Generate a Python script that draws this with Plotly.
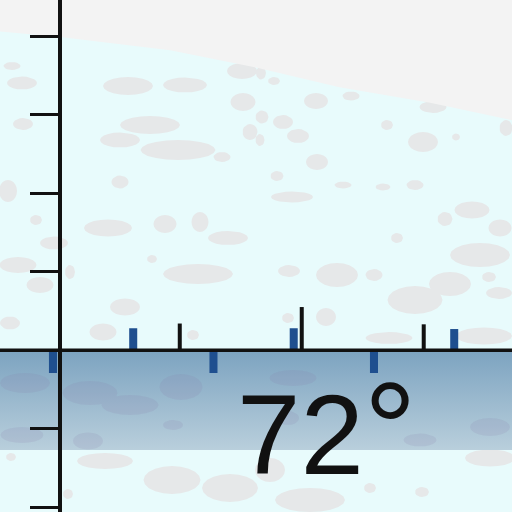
import math
import plotly.graph_objects as go

# ---------------------------------------------------------
# data (x in slot units, y in tick units)
# ---------------------------------------------------------
bar_x = [0, 1, 2, 3, 4, 5]
bar_values = [-0.29, 0.28, -0.29, 0.28, -0.29, 0.27]

mark_x = [1.58, 3.10, 4.62]
mark_values = [0.34, 0.55, 0.33]

y_ticks = [-2, -1, 0, 1, 2, 3, 4]

# edge of the grey region at the top
edge_x = [-0.66, 0.09, 1.46, 2.53, 3.57, 4.70, 5.72]
edge_y = [4.06, 3.99, 3.82, 3.60, 3.35, 3.15, 2.93]

band_bottom = -1.27
label_value = "72"
label_unit = "°"

# cloud patches (centre x, centre y, width, height) in screen pixels
sky_clouds = [
    (12, 66, 17, 8), (22, 83, 30, 13), (128, 86, 50, 18), (185, 85, 44, 15),
    (242, 71, 30, 16), (243, 102, 25, 18), (23, 124, 20, 12), (150, 125, 60, 18),
    (120, 140, 40, 15), (178, 150, 75, 20), (222, 157, 17, 10), (250, 132, 15, 16),
    (8, 191, 18, 22), (120, 182, 17, 13), (36, 220, 12, 10), (108, 228, 48, 17),
    (165, 224, 23, 18), (200, 222, 17, 20), (228, 238, 40, 14), (54, 243, 28, 13),
    (18, 265, 37, 16), (40, 285, 27, 16), (152, 259, 10, 8), (198, 274, 70, 20),
    (70, 272, 10, 14), (125, 307, 30, 17), (10, 323, 20, 13), (103, 332, 27, 17),
    (193, 335, 12, 10), (261, 73, 10, 13), (274, 81, 12, 8), (316, 101, 24, 16),
    (351, 96, 17, 9), (433, 107, 27, 12), (262, 117, 13, 13), (283, 122, 20, 14),
    (298, 136, 22, 14), (387, 125, 12, 10), (423, 142, 30, 20), (456, 137, 8, 7),
    (506, 128, 13, 16), (317, 162, 22, 16), (260, 140, 9, 12), (277, 176, 13, 10),
    (343, 185, 17, 7), (383, 187, 15, 7), (415, 185, 17, 10), (292, 197, 42, 11),
    (445, 219, 15, 14), (472, 210, 35, 17), (500, 228, 23, 17), (397, 238, 12, 10),
    (480, 255, 60, 24), (289, 271, 22, 12), (337, 275, 42, 24), (374, 275, 17, 12),
    (450, 284, 42, 24), (489, 277, 14, 10), (415, 300, 55, 28), (499, 293, 26, 12),
    (326, 317, 20, 18), (288, 318, 12, 10), (389, 338, 47, 12), (484, 336, 56, 17),
    (105, 461, 56, 16), (172, 480, 57, 28), (230, 488, 56, 28), (11, 457, 10, 8),
    (68, 494, 10, 10), (270, 470, 30, 24), (310, 500, 70, 24), (490, 458, 50, 17),
    (422, 492, 14, 10), (370, 488, 12, 10),
]
band_clouds = [
    (25, 383, 50, 20), (90, 393, 55, 24), (130, 405, 57, 20), (181, 387, 43, 26),
    (22, 435, 43, 16), (88, 441, 30, 17), (173, 425, 20, 10), (420, 440, 33, 13),
    (490, 427, 40, 18), (288, 418, 22, 14), (293, 378, 47, 16),
]

X_RANGE = [-0.66, 5.72]
Y_RANGE = [-2.06, 4.46]

BG = "#E8FBFC"
GREY = "#F3F3F3"
BLUE = "#1F4F8F"
INK = "#111111"


def px_to_data(px, py):
    x = X_RANGE[0] + px / 512 * (X_RANGE[1] - X_RANGE[0])
    y = Y_RANGE[1] - py / 512 * (Y_RANGE[1] - Y_RANGE[0])
    return x, y


def cloud_path(clouds):
    xs, ys = [], []
    for cx, cy, w, h in clouds:
        for k in range(21):
            a = 2 * math.pi * k / 20
            x, y = px_to_data(cx + w / 2 * math.cos(a), cy + h / 2 * math.sin(a))
            xs.append(x)
            ys.append(y)
        xs.append(None)
        ys.append(None)
    return xs, ys


fig = go.Figure()

sx, sy = cloud_path(sky_clouds)
fig.add_trace(go.Scatter(x=sx, y=sy, fill="toself", fillcolor="#E6E8E9",
                         mode="lines", line=dict(width=0),
                         hoverinfo="skip", showlegend=False))

# grey area above the edge
fig.add_trace(go.Scatter(
    x=edge_x + [X_RANGE[1], X_RANGE[0]],
    y=edge_y + [Y_RANGE[1], Y_RANGE[1]],
    fill="toself", fillcolor=GREY, mode="lines", line=dict(width=0),
    hoverinfo="skip", showlegend=False))

# shaded band under the zero line
fig.add_trace(go.Scatter(
    x=[X_RANGE[0], X_RANGE[1], X_RANGE[1], X_RANGE[0]],
    y=[0, 0, band_bottom, band_bottom],
    fill="toself", mode="lines", line=dict(width=0),
    fillgradient=dict(type="vertical",
                      colorscale=[[0, "#B9CFDC"], [1, "#7CA3C0"]]),
    hoverinfo="skip", showlegend=False))

bx, by = cloud_path(band_clouds)
fig.add_trace(go.Scatter(x=bx, y=by, fill="toself",
                         fillcolor="rgba(135,120,165,0.15)",
                         mode="lines", line=dict(width=0),
                         hoverinfo="skip", showlegend=False))

# bars sit on an overlaid copy of the axes so they draw above the fills
fig.add_trace(go.Bar(x=bar_x, y=bar_values, width=0.1, xaxis="x2", yaxis="y2",
                     marker=dict(color=BLUE, line=dict(width=0)),
                     showlegend=False))
fig.add_trace(go.Bar(x=mark_x, y=mark_values, width=0.05, xaxis="x2", yaxis="y2",
                     marker=dict(color=INK, line=dict(width=0)),
                     showlegend=False))

fig.add_hline(y=0, line=dict(color=INK, width=3.5), layer="above")

fig.add_annotation(x=3.42, y=-1.0, xref="x", yref="y",
                   text=label_value + "<span style='font-size:132px'>"
                   + label_unit + "</span>",
                   showarrow=False,
                   font=dict(family="Liberation Sans", size=114, color=INK))

fig.update_layout(
    width=512, height=512,
    margin=dict(l=0, r=0, t=0, b=0),
    paper_bgcolor=BG, plot_bgcolor=BG,
    barmode="overlay",
    xaxis=dict(range=X_RANGE, showgrid=False, zeroline=False,
               showticklabels=False, ticks=""),
    yaxis=dict(range=Y_RANGE, showgrid=False, zeroline=False,
               showline=True, linecolor=INK, linewidth=3.5,
               anchor="free", position=59.5 / 512,
               tickvals=y_ticks, ticks="outside", ticklen=28,
               tickwidth=3, tickcolor=INK,
               showticklabels=False),
    xaxis2=dict(range=X_RANGE, overlaying="x", visible=False),
    yaxis2=dict(range=Y_RANGE, overlaying="y", visible=False),
)

fig.write_html("out.html", config={"displayModeBar": False},
               post_script="document.body.style.margin='0';")
